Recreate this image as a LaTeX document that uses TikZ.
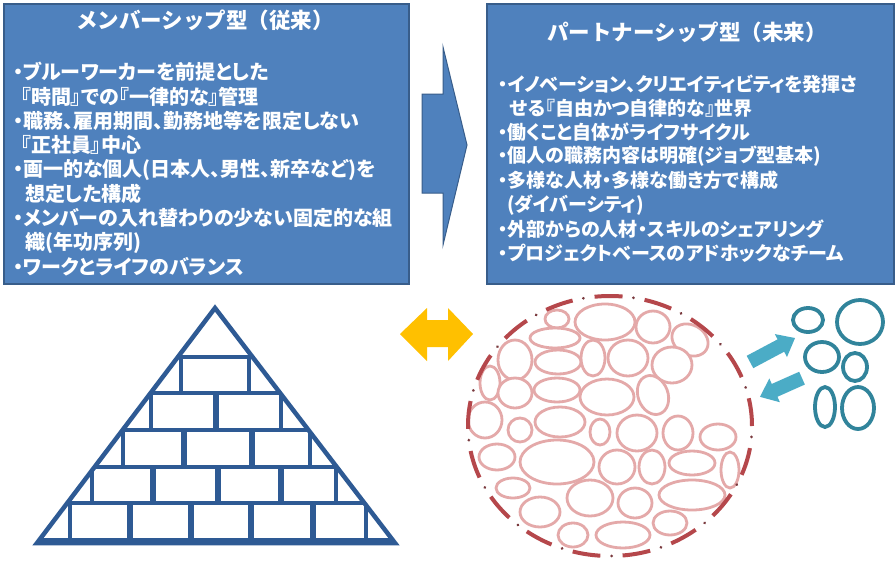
\documentclass[tikz,border=0pt]{standalone}
\usepackage{fontspec}
\newfontfamily\jp{Noto Sans CJK JP}
\newfontfamily\jpp{Noto Sans CJK JP}[RawFeature=+palt]
\definecolor{boxblue}{HTML}{4F81BD}
\definecolor{boxedge}{HTML}{385D8A}
\definecolor{pyr}{HTML}{2E5A94}
\definecolor{gold}{HTML}{FFC000}
\definecolor{cyanarrow}{HTML}{4BACC6}
\definecolor{tealring}{HTML}{31849B}
\definecolor{pinkline}{HTML}{E4A9A9}
\definecolor{dashred}{HTML}{B5474B}
\definecolor{dotred}{HTML}{7A3A3E}
\begin{document}
\begin{tikzpicture}[x=1pt,y=-1pt,
  panel/.style={fill=boxblue, draw=boxedge, line width=1.5pt, inner sep=0pt, anchor=north west},
  ttl/.style={text=white, font=\jp\bfseries\fontsize{21.5}{24}\selectfont, inner sep=0pt},
  ltxt/.style={text=white, font=\jpp\bfseries\fontsize{20}{24}\selectfont, anchor=west, inner sep=0pt},
  rtxt/.style={text=white, font=\jpp\bfseries\fontsize{19}{24}\selectfont, anchor=west, inner sep=0pt},
  brickline/.style={draw=pyr, line width=4pt},
  sepline/.style={draw=pyr, line width=5.5pt},
  bub/.style={draw=pinkline, line width=2.8pt, fill=white},
  ring/.style={draw=tealring, line width=3.8pt},
]
\useasboundingbox (0,0) rectangle (895,563);
\fill[white] (0,0) rectangle (895,563);

% panels
\node[panel, minimum width=405pt, minimum height=280pt] (lbox) at (3,3) {};
\node[panel, minimum width=407pt, minimum height=280pt] (rbox) at (486,3) {};

\node[ttl] (lt) at (205,20) {メンバーシップ型（従来）};
\node[ttl] (rt) at (687,32) {パートナーシップ型（未来）};

\node[ltxt] (l1) at (13,72) {・ブルーワーカーを前提とした};
\node[ltxt] (l2) at (21,96.5) {『時間』での『一律的な』管理};
\node[ltxt] (l3) at (13,121) {・職務、雇用期間、勤務地等を限定しない};
\node[ltxt] (l4) at (21,145) {『正社員』中心};
\node[ltxt] (l5) at (13,170) {・画一的な個人(日本人、男性、新卒など)を};
\node[ltxt] (l6) at (25,194) {想定した構成};
\node[ltxt] (l7) at (13,218) {・メンバーの入れ替わりの少ない固定的な組};
\node[ltxt] (l8) at (25,243) {織(年功序列)};
\node[ltxt] (l9) at (13,267) {・ワークとライフのバランス};

\node[rtxt] (r1) at (498,84) {・イノベーション、クリエイティビティを発揮さ};
\node[rtxt] (r2) at (510,108) {せる『自由かつ自律的な』世界};
\node[rtxt] (r3) at (498,132) {・働くこと自体がライフサイクル};
\node[rtxt] (r4) at (498,156) {・個人の職務内容は明確(ジョブ型基本)};
\node[rtxt] (r5) at (498,180) {・多様な人材・多様な働き方で構成};
\node[rtxt] (r6) at (507,205) {(ダイバーシティ)};
\node[rtxt] (r7) at (498,229) {・外部からの人材・スキルのシェアリング};
\node[rtxt] (r8) at (498,253) {・プロジェクトベースのアドホックなチーム};

% big arrow
\draw[fill=boxblue, draw=boxedge, line width=1pt, line join=miter]
  (422,94) -- (443,94) -- (443,47) -- (467,145) -- (443,245) -- (443,193) -- (422,193) -- cycle;

% yellow double arrow
\fill[gold] (400,334) -- (427,308) -- (427,320) -- (448,320) -- (448,308) -- (473,334)
  -- (448,361) -- (448,347) -- (427,347) -- (427,361) -- cycle;

% pyramid
\begin{scope}
\clip (215,308) -- (37,543) -- (395,543) -- cycle;
\foreach \yy in {357,393,430,467,503,540} \draw[brickline] (0,\yy) -- (450,\yy);
\foreach \xx in {181,249} \draw[brickline] (\xx,357) -- (\xx,393);
\foreach \xx in {151,281} \draw[brickline] (\xx,393) -- (\xx,430);
\draw[sepline] (216,393) -- (216,430);
\foreach \xx in {123,310} \draw[brickline] (\xx,430) -- (\xx,467);
\foreach \xx in {184,252} \draw[sepline] (\xx,430) -- (\xx,467);
\foreach \xx in {92,336} \draw[brickline] (\xx,467) -- (\xx,503);
\foreach \xx in {153,218,281} \draw[sepline] (\xx,467) -- (\xx,503);
\foreach \xx in {70,366} \draw[brickline] (\xx,503) -- (\xx,540);
\foreach \xx in {130,191,251,313} \draw[sepline] (\xx,503) -- (\xx,540);
\end{scope}
\draw[draw=pyr, line width=4.5pt, line join=miter] (215,308) -- (37,543) -- (395,543) -- cycle;
\draw[draw=pyr, line width=6pt] (40,541) -- (392,541);

% cells inside the circle
\draw[bub] (557,319) ellipse [x radius=12pt, y radius=9pt];
\draw[bub] (605,322) ellipse [x radius=30pt, y radius=18pt];
\draw[bub] (653,327) ellipse [x radius=17pt, y radius=16pt];
\draw[bub, rotate around={-30:(690,340)}] (690,340) ellipse [x radius=19pt, y radius=15pt];
\draw[bub] (555,338) ellipse [x radius=25pt, y radius=10pt];
\draw[bub] (515,360) ellipse [x radius=17pt, y radius=20pt];
\draw[bub] (558,362) ellipse [x radius=23pt, y radius=12pt];
\draw[bub] (593,358) ellipse [x radius=12pt, y radius=18pt];
\draw[bub] (628,358) ellipse [x radius=20pt, y radius=18pt];
\draw[bub] (672,365) ellipse [x radius=20pt, y radius=18pt];
\draw[bub] (490,383) ellipse [x radius=10pt, y radius=17pt];
\draw[bub] (515,393) ellipse [x radius=17pt, y radius=15pt];
\draw[bub] (557,390) ellipse [x radius=23pt, y radius=12pt];
\draw[bub] (607,397) ellipse [x radius=27pt, y radius=18pt];
\draw[bub, rotate around={20:(653,395)}] (653,395) ellipse [x radius=15pt, y radius=20pt];
\draw[bub] (485,420) ellipse [x radius=17pt, y radius=18pt];
\draw[bub] (520,430) ellipse [x radius=12pt, y radius=12pt];
\draw[bub] (560,422) ellipse [x radius=25pt, y radius=15pt];
\draw[bub] (600,432) ellipse [x radius=10pt, y radius=13pt];
\draw[bub] (637,433) ellipse [x radius=20pt, y radius=18pt];
\draw[bub] (678,433) ellipse [x radius=15pt, y radius=17pt];
\draw[bub] (718,437) ellipse [x radius=18pt, y radius=13pt];
\draw[bub] (497,457) ellipse [x radius=18pt, y radius=13pt];
\draw[bub] (557,462) ellipse [x radius=37pt, y radius=22pt];
\draw[bub] (617,467) ellipse [x radius=18pt, y radius=17pt];
\draw[bub] (652,467) ellipse [x radius=13pt, y radius=17pt];
\draw[bub] (692,463) ellipse [x radius=23pt, y radius=12pt];
\draw[bub] (730,470) ellipse [x radius=9pt, y radius=18pt];
\draw[bub] (513,488) ellipse [x radius=17pt, y radius=10pt];
\draw[bub] (590,498) ellipse [x radius=23pt, y radius=18pt];
\draw[bub] (635,503) ellipse [x radius=17pt, y radius=15pt];
\draw[bub] (692,495) ellipse [x radius=33pt, y radius=15pt];
\draw[bub] (540,512) ellipse [x radius=20pt, y radius=15pt];
\draw[bub] (670,523) ellipse [x radius=17pt, y radius=12pt];
\draw[bub] (573,535) ellipse [x radius=15pt, y radius=12pt];
\draw[bub] (623,535) ellipse [x radius=27pt, y radius=13pt];

% dashed boundary
\draw[dashred, line width=4pt, dash pattern=on 28pt off 22.3pt] (610,426) ellipse [x radius=142pt, y radius=130pt];
\draw[dotred, line width=3pt, line cap=round, dash pattern=on 0.01pt off 50.29pt, dash phase=11pt] (610,426) ellipse [x radius=142pt, y radius=130pt];

% exchange arrows
\begin{scope}[shift={(772.5,350)}, rotate=28]
\fill[cyanarrow] (-25.5,-7) -- (9.5,-7) -- (9.5,-13) -- (25.5,0) -- (9.5,13) -- (9.5,7) -- (-25.5,7) -- cycle;
\end{scope}
\begin{scope}[shift={(781,387.5)}, rotate=204]
\fill[cyanarrow] (-23,-7) -- (7,-7) -- (7,-13) -- (23,0) -- (7,13) -- (7,7) -- (-23,7) -- cycle;
\end{scope}

% outside individuals
\draw[ring] (808,320) ellipse [x radius=15pt, y radius=12pt];
\draw[ring] (860,322) ellipse [x radius=23pt, y radius=22pt];
\draw[ring] (822,357) ellipse [x radius=17pt, y radius=15pt];
\draw[ring] (855,367) ellipse [x radius=12pt, y radius=14pt];
\draw[ring] (825,407) ellipse [x radius=10pt, y radius=20pt];
\draw[ring] (858,408) ellipse [x radius=16pt, y radius=21pt];
\end{tikzpicture}
\end{document}
